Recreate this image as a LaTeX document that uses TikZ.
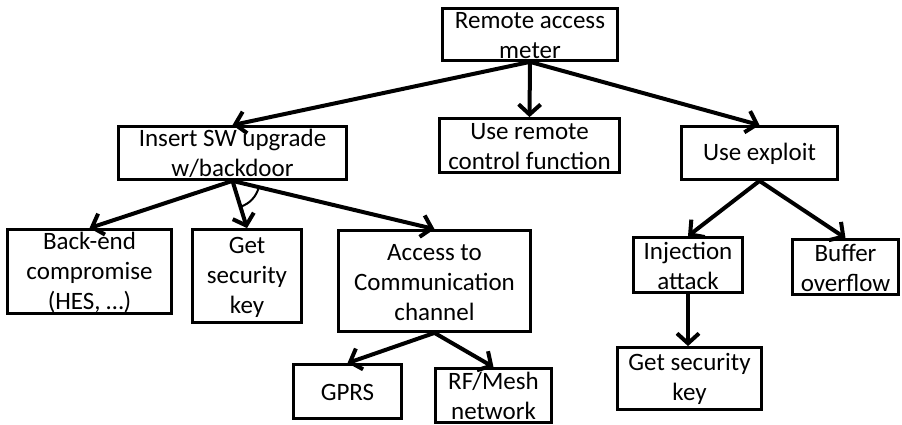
\documentclass[tikz,border=0pt]{standalone}
\usepackage{fontspec}
\setmainfont{Carlito}
\usetikzlibrary{arrows.meta}
\newcommand\tstrut{\rule{0pt}{19pt}}
\begin{document}
\begin{tikzpicture}[x=1pt,y=1pt,
  box/.style={draw=black, line width=2.8pt, fill=white, align=center, inner sep=0pt,
    font=\fontsize{25}{30}\selectfont},
  arr/.style={line width=4pt, -{Straight Barb[length=10pt,width=22pt,line width=4pt]}},
]
\useasboundingbox (0,0) rectangle (902,425);
\node[box, minimum width=175, minimum height=52] (root) at (530,390.5) {\tstrut Remote access\\meter};
\node[box, minimum width=180, minimum height=54] (remote) at (529.5,279.5) {\tstrut Use remote\\control function};
\node[box, minimum width=228, minimum height=53] (ins) at (232.5,272) {\tstrut Insert SW upgrade\\w/backdoor};
\node[box, minimum width=156, minimum height=53] (expl) at (759.5,272) {\tstrut Use exploit};
\node[box, minimum width=164, minimum height=84] (back) at (89.5,153.5) {\tstrut Back-end\\compromise\\(HES, …)};
\node[box, minimum width=109, minimum height=93] (key1) at (247,149) {\tstrut Get\\security\\key};
\node[box, minimum width=192, minimum height=101] (acc) at (434.5,144) {\tstrut Access to\\Communication\\channel};
\node[box, minimum width=109, minimum height=55] (inj) at (688,160) {\tstrut Injection\\attack};
\node[box, minimum width=106, minimum height=55] (buf) at (845.5,158) {\tstrut Buffer\\overflow};
\node[box, minimum width=144, minimum height=62] (key2) at (689.5,46.5) {\tstrut Get security\\key};
\node[box, minimum width=108, minimum height=54] (gprs) at (347.5,33.5) {\tstrut GPRS};
\node[box, minimum width=116, minimum height=54] (rf) at (493.5,29.5) {\tstrut RF/Mesh\\network};

\draw[arr] (root.south) -- (ins.north);
\draw[arr] (root.south) -- (remote.north);
\draw[arr] (root.south) -- (expl.north);
\draw[arr] (ins.south) -- (back.north);
\draw[arr] (ins.south) -- (key1.north);
\draw[arr] (ins.south) -- (acc.north);
\draw[line width=2pt] ([shift={(-73.4:27)}]ins.south) arc[start angle=-73.4, end angle=-13.2, radius=27];
\draw[arr] (expl.south) -- (inj.north);
\draw[arr] (expl.south) -- (buf.north);
\draw[arr] (inj.south) -- (inj.south |- key2.north);
\draw[arr] (acc.south) -- (gprs.north);
\draw[arr] (acc.south) -- (rf.north);
\end{tikzpicture}
\end{document}
